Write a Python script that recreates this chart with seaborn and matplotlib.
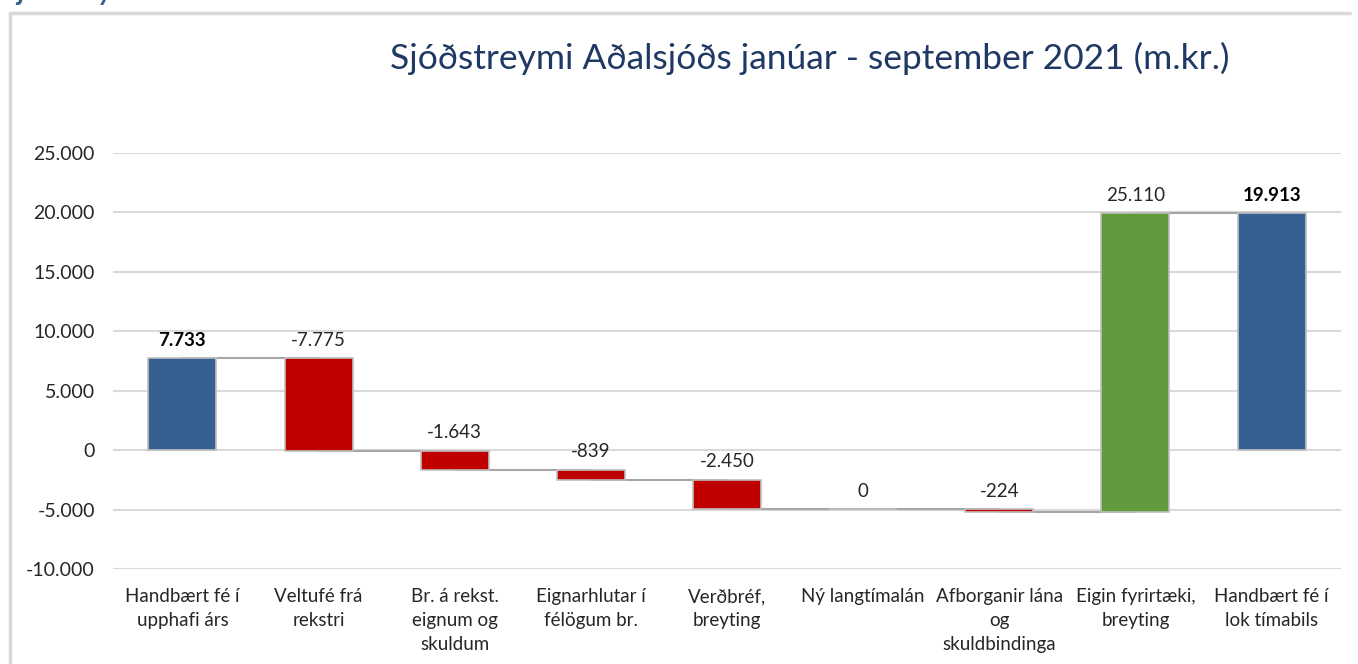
import matplotlib
matplotlib.use("Agg")
import matplotlib.pyplot as plt
import seaborn as sns
import pandas as pd
from matplotlib.lines import Line2D

# gögn lesin af myndinni
categories = [
    "Handbært fé í\nupphafi árs",
    "Veltufé frá\nrekstri",
    "Br. á rekst.\neignum og\nskuldum",
    "Eignarhlutar í\nfélögum br.",
    "Verðbréf,\nbreyting",
    "Ný langtímalán",
    "Afborganir lána\nog\nskuldbindinga",
    "Eigin fyrirtæki,\nbreyting",
    "Handbært fé í\nlok tímabils",
]
values = [7733, -7775, -1643, -839, -2450, 0, -224, 25110, 19913]
is_total = [True, False, False, False, False, False, False, False, True]
yticks = [-10000, -5000, 0, 5000, 10000, 15000, 20000, 25000]

BLUE = "#376092"
RED = "#C00000"
GREEN = "#629B3E"
GRID = "#D9D9D9"
TITLE_C = "#1F3864"

sns.set_theme(style="white")
plt.rcParams["font.family"] = ["Lato", "DejaVu Sans"]

# reikna botn og topp fyrir hverja súlu
bottoms, heights, colors, levels = [], [], [], []
running = 0
for v, tot in zip(values, is_total):
    if tot:
        b, h = 0, v
        running = v
        colors.append(BLUE)
    else:
        new = running + v
        b, h = min(running, new), abs(v)
        running = new
        colors.append(RED if v < 0 else GREEN)
    bottoms.append(b)
    heights.append(h)
    levels.append(running)

df = pd.DataFrame({"cat": categories, "h": heights})

fig = plt.figure(figsize=(13.58, 6.64), dpi=100)
ax = fig.add_axes([113 / 1358, 1 - 569 / 664, (1341 - 113) / 1358, (569 - 153) / 664])

sns.barplot(data=df, x="cat", y="h", order=categories, width=0.5, ax=ax,
            color=BLUE, edgecolor="#BFBFBF", linewidth=1.2, zorder=3)

for p, b, c in zip(ax.patches, bottoms, colors):
    p.set_y(b)
    p.set_facecolor(c)

# tengilínur
pats = list(ax.patches)
for i in range(len(pats) - 1):
    xa = pats[i].get_x() + pats[i].get_width() / 2
    xb = pats[i + 1].get_x() + pats[i + 1].get_width() / 2
    ax.plot([xa, xb], [levels[i], levels[i]], color="#A6A6A6", lw=1.5, zorder=2)

# gildismerki
for p, b, h, v, tot in zip(pats, bottoms, heights, values, is_total):
    lab = f"{v:,.0f}".replace(",", ".")
    ax.annotate(lab, (p.get_x() + p.get_width() / 2, b + h), xytext=(0, 7),
                textcoords="offset points", ha="center", va="bottom",
                fontsize=13.5, color="#000000" if tot else "#262626",
                fontweight="bold" if tot else "normal")

ax.set_ylim(-10000, 25000)
ax.set_xlim(-0.51, len(categories) - 0.49)
ax.set_yticks(yticks)
ax.set_yticklabels([f"{t:,.0f}".replace(",", ".") for t in yticks])
ax.grid(axis="y", color=GRID, lw=1.5, zorder=0)
ax.set_axisbelow(True)
for s in ax.spines.values():
    s.set_visible(False)
ax.tick_params(axis="y", length=0, pad=13, labelsize=14, labelcolor="#262626")
ax.tick_params(axis="x", length=0, pad=14, labelsize=13.5, labelcolor="#262626")
for t in ax.get_xticklabels():
    t.set_linespacing(1.5)
ax.set_xlabel("")
ax.set_ylabel("")

fig.text(810 / 1358, 1 - 58 / 664, "Sjóðstreymi Aðalsjóðs janúar - september 2021 (m.kr.)",
         ha="center", va="center", fontsize=25.5, color=TITLE_C)

# rammi og afskorinn texti efst til vinstri
fig.add_artist(Line2D([10 / 1358, 10 / 1358], [0, 1 - 13 / 664], color=GRID, lw=2.5,
                      transform=fig.transFigure))
fig.add_artist(Line2D([10 / 1358, 1350 / 1358], [1 - 13 / 664, 1 - 13 / 664], color=GRID,
                      lw=2.5, transform=fig.transFigure))
fig.text(4 / 1358, 1.0, "Sjóðstreymi", ha="left", va="baseline", fontsize=20,
         fontweight="bold", fontstyle="italic", color=BLUE)

fig.savefig("out.png", dpi=100)
